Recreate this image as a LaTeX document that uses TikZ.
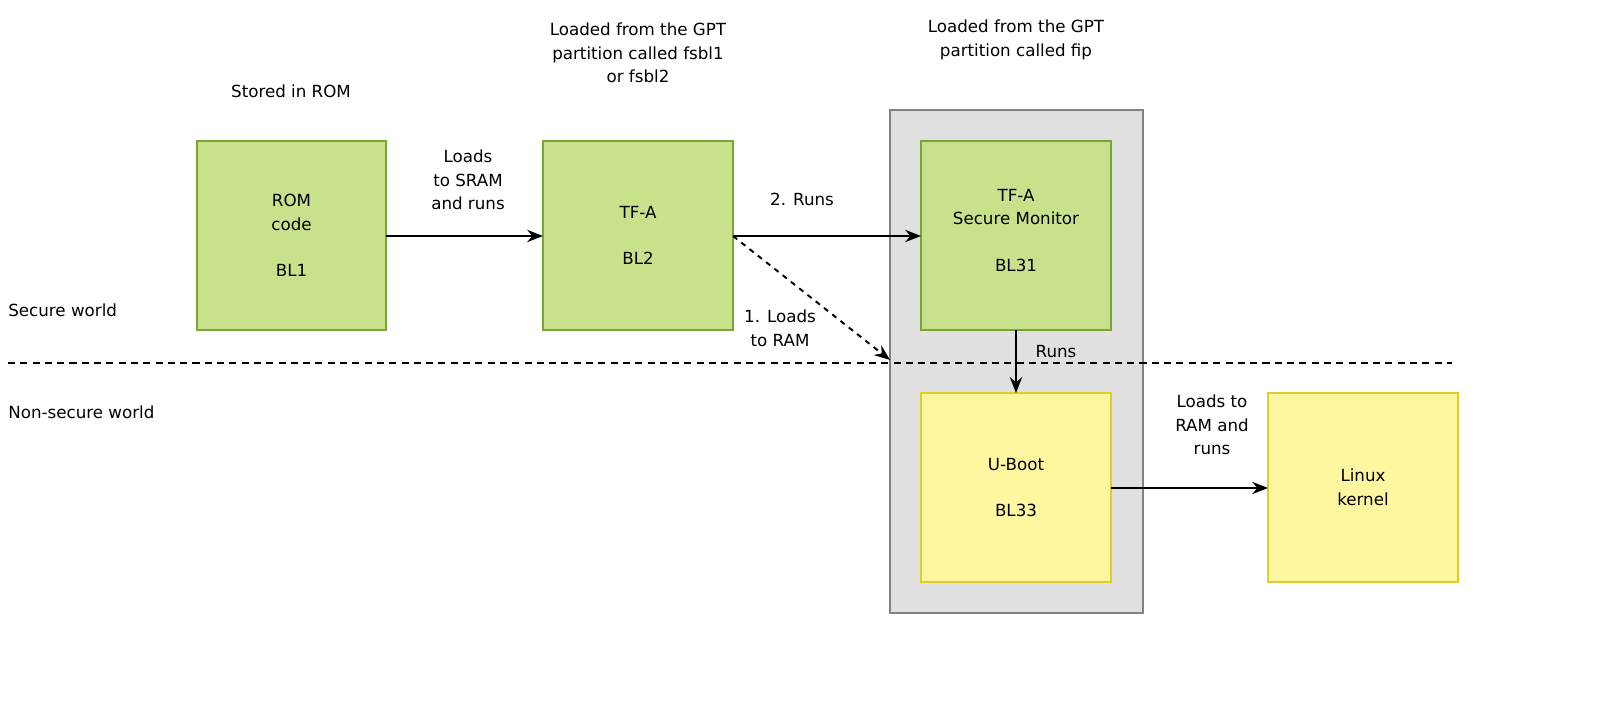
\documentclass[tikz,border=0pt]{standalone}
\usepackage{fontspec}
\setmainfont{DejaVu Sans}
\usetikzlibrary{arrows.meta}
\definecolor{gfill}{RGB}{200,226,140}
\definecolor{gline}{RGB}{120,165,55}
\definecolor{yfill}{RGB}{255,246,160}
\definecolor{yline}{RGB}{225,205,40}
\definecolor{cfill}{RGB}{224,224,224}
\definecolor{cline}{RGB}{130,130,130}
\begin{document}
\begin{tikzpicture}[x=0.02cm,y=-0.02cm,
  every node/.style={font=\fontsize{9.5pt}{13.5pt}\selectfont, align=center, inner sep=0},
  gbox/.style={draw=gline, fill=gfill, line width=1.2pt},
  ybox/.style={draw=yline, fill=yfill, line width=1.2pt},
  arr/.style={-{Stealth[length=9pt,width=7pt]}, line width=1.1pt}]
\useasboundingbox (0,0) rectangle (1600,715);
\draw[draw=cline, fill=cfill, line width=1pt] (890,110) rectangle (1143,613);
\draw[gbox] (197,141) rectangle (386,330) node[midway] (rom) {ROM\\code\\[13pt]BL1};
\coordinate (romE) at (386,236);
\draw[gbox] (543,141) rectangle (733,330) node[midway] (bl2) {TF-A\\[13pt]BL2};
\coordinate (bl2W) at (543,236);
\coordinate (bl2E) at (733,236);
\draw[gbox] (921,141) rectangle (1111,330) node[midway,yshift=3pt] (bl31) {TF-A\\Secure Monitor\\[13pt]BL31};
\coordinate (bl31W) at (921,236);
\coordinate (bl31S) at (1016,330);
\draw[ybox] (921,393) rectangle (1111,582) node[midway] (ub) {U-Boot\\[13pt]BL33};
\coordinate (ubN) at (1016,393);
\coordinate (ubE) at (1111,488);
\draw[ybox] (1268,393) rectangle (1458,582) node[midway] (lk) {Linux\\kernel};
\coordinate (lkW) at (1268,488);
\coordinate (cont) at (890,360);
\draw[dashed, line width=1.1pt, dash pattern=on 4pt off 3pt] (8,363) -- (1452,363);
\draw[arr] (romE) -- (bl2W);
\draw[arr] (bl2E) -- (bl31W);
\draw[arr, dashed] (bl2E) -- (cont);
\draw[arr] (bl31S) -- (ubN);
\draw[arr] (ubE) -- (lkW);
\node (t1) at (291,91) {Stored in ROM};
\node (t2) at (638,53) {Loaded from the GPT\\partition called fsbl1\\or fsbl2};
\node (t3) at (1016,40) {Loaded from the GPT\\partition called fip};
\node[anchor=west] (sw) at (8,310) {Secure world};
\node[anchor=west] (nsw) at (8,412) {Non-secure world};
\node (l1) at (468,180) {Loads\\to SRAM\\and runs};
\node (l2) at (802,199) {2. Runs};
\node (l3) at (780,328) {1. Loads\\to RAM};
\node (l4) at (1056,352) {Runs};
\node (l5) at (1212,425) {Loads to\\RAM and\\runs};
\end{tikzpicture}
\end{document}
